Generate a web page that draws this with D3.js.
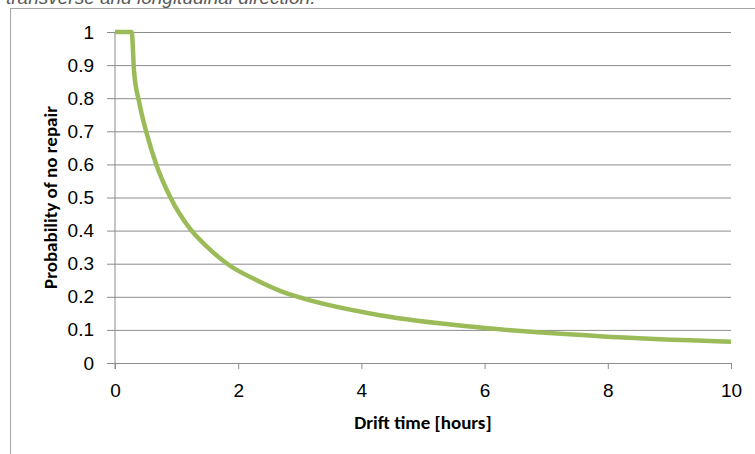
<!DOCTYPE html>
<html>
<head>
<meta charset="utf-8">
<script src="https://cdn.jsdelivr.net/npm/d3@7"></script>
<style>
  body { margin: 0; background: #fff; }
  svg { display: block; font-family: Carlito, Calibri, Lato, sans-serif; }
</style>
</head>
<body>
<svg id="chart"></svg>
<script>
// chart size
const W = 755, H = 454;
const margin = {top: 32, right: 24, bottom: 91, left: 115},
    width = W - margin.left - margin.right,
    height = H - margin.top - margin.bottom;

// data
var driftTime = [0, 0.27, 0.31, 0.39, 0.52, 0.67, 0.9, 1.22, 1.5, 1.82, 2.3, 2.68, 3.0, 4.3, 5.93, 7.87, 10];
var probNoRepair = [1, 1, 0.88, 0.79, 0.69, 0.6, 0.5, 0.405, 0.35, 0.3, 0.25, 0.218, 0.198, 0.144, 0.107, 0.081, 0.064];
var xTicks = [0, 2, 4, 6, 8, 10];
var yTicks = [0, 0.1, 0.2, 0.3, 0.4, 0.5, 0.6, 0.7, 0.8, 0.9, 1];

var data = driftTime.map(function(t, i) { return {t: t, p: probNoRepair[i]}; });

var svg = d3.select("#chart")
    .attr("width", W)
    .attr("height", H)
    .attr("viewBox", [0, 0, W, H]);

// outer chart frame (runs off the right and bottom edges)
svg.append("rect")
    .attr("x", 10.5).attr("y", 8.5)
    .attr("width", 900).attr("height", 600)
    .attr("fill", "none")
    .attr("stroke", "#a6a6a6")
    .attr("stroke-width", 1);

// caption text cut off at the top
svg.append("text")
    .attr("x", 6)
    .attr("y", 4)
    .attr("font-family", "'Liberation Sans', Arial, sans-serif")
    .attr("font-style", "italic")
    .attr("font-size", 19)
    .attr("fill", "#595959")
    .text("transverse and longitudinal direction.");

var g = svg.append("g")
    .attr("transform", "translate(" + margin.left + "," + margin.top + ")");

var x = d3.scaleLinear().domain([0, 10]).range([0, width]);
var y = d3.scaleLinear().domain([0, 1]).range([height, 0]);

// horizontal gridlines
g.append("g")
    .attr("class", "grid")
    .call(d3.axisLeft(y).tickValues(yTicks.slice(1)).tickSize(-width).tickFormat(""))
    .call(function(s) {
      s.select(".domain").remove();
      s.selectAll("line").attr("stroke", "#8c8c8c").attr("stroke-width", 1);
    });

// y axis
g.append("g")
    .call(d3.axisLeft(y).tickValues(yTicks).tickSize(8).tickPadding(13)
      .tickFormat(function(d) { return d3.format("")(+d.toFixed(1)); }))
    .call(function(s) {
      s.select(".domain").remove();
      s.selectAll("line").attr("stroke", "#8c8c8c");
      s.selectAll("text").attr("font-size", 19).attr("fill", "#000");
    });

// x axis
g.append("g")
    .attr("transform", "translate(0," + height + ")")
    .call(d3.axisBottom(x).tickValues(xTicks).tickSize(6).tickPadding(15))
    .call(function(s) {
      s.select(".domain").attr("stroke", "#8c8c8c");
      s.selectAll("line").attr("stroke", "#8c8c8c");
      s.selectAll("text").attr("font-size", 19).attr("fill", "#000");
    });

// vertical axis line
g.append("line")
    .attr("x1", x(0)).attr("x2", x(0))
    .attr("y1", y(1)).attr("y2", height + 6)
    .attr("stroke", "#8c8c8c");

// the curve
var line = d3.line()
    .x(function(d) { return x(d.t); })
    .y(function(d) { return y(d.p); })
    .curve(d3.curveMonotoneX);

g.append("path")
    .datum(data)
    .attr("fill", "none")
    .attr("stroke", "#9bbb59")
    .attr("stroke-width", 4.5)
    .attr("stroke-linejoin", "round")
    .attr("d", line);

// axis titles
g.append("text")
    .attr("x", width / 2)
    .attr("y", height + 66)
    .attr("text-anchor", "middle")
    .attr("font-weight", "bold")
    .attr("font-size", 19)
    .text("Drift time [hours]");

g.append("text")
    .attr("transform", "translate(" + (57 - margin.left) + "," + (height / 2) + ") rotate(-90)")
    .attr("text-anchor", "middle")
    .attr("font-weight", "bold")
    .attr("font-size", 19)
    .text("Probability of no repair");
</script>
</body>
</html>
